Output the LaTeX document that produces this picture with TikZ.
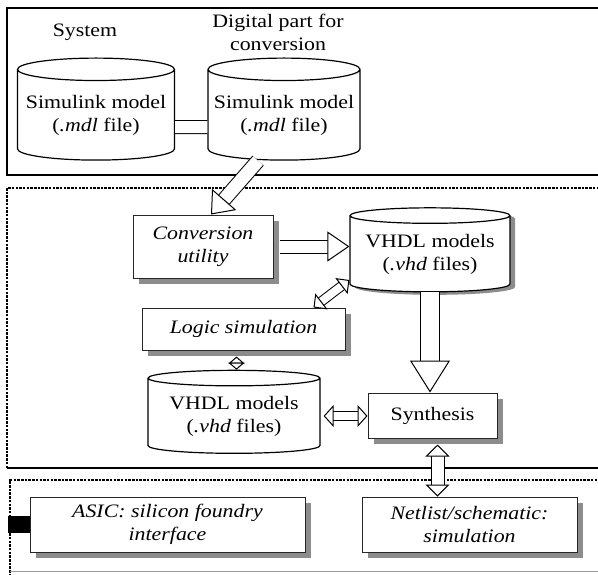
\documentclass[tikz,border=0pt]{standalone}
\usepackage{fontspec}
\setmainfont{Liberation Serif}[FakeStretch=1.15]
\usetikzlibrary{arrows.meta,positioning,calc,shapes.geometric,shadows}
\newcommand{\fich}[1]{(\textit{.#1}}

\begin{document}
\begin{tikzpicture}[x=1pt,y=-1pt,
  every node/.style={font=\fontsize{19}{23}\selectfont},
  boite/.style={draw=black!85,line width=1pt,fill=white,align=center,inner sep=0pt,
    drop shadow={shadow xshift=6pt,shadow yshift=-6pt,fill=black!45,opacity=1}},
  bdd/.style={draw,line width=1.2pt,fill=white,cylinder,shape border rotate=90,
    aspect=0.16,inner sep=0pt,align=center},
  creux/.style n args={3}{double,double distance=#1,line width=1pt,
    -{Triangle[length=#2,width=#3,fill=white,line width=1pt]}},
  creuxx/.style n args={3}{double,double distance=#1,line width=1pt,
    {Triangle[length=#2,width=#3,fill=white,line width=1pt]}-{Triangle[length=#2,width=#3,fill=white,line width=1pt]}},
  pointille/.style={line width=2.5pt,dash pattern=on 2.5pt off 1.2pt}]
  \clip (0,0) rectangle (598,574);
  % cadres
  \draw[line width=1.4pt] (7,8) rectangle (640,175);
  \draw[pointille] (7,468) -- (7,188) -- (640,188);
  \draw[line width=1.2pt] (7,468) -- (640,468);
  \draw[pointille] (10,580) -- (10,480) -- (640,480);
  \draw[black!40,line width=1pt] (10,571) -- (640,571);
  % niveau systeme
  \node at (85,32) {System};
  \node[align=center] at (278,32) {Digital part for\\conversion};
  \node[bdd,minimum width=157pt,minimum height=102pt] (sys) at (96,115)
    {Simulink model\\\fich{mdl} file)};
  \node[bdd,minimum width=152pt,minimum height=102pt] (dig) at (284,115)
    {Simulink model\\\fich{mdl} file)};
  \draw[double,double distance=12pt,line width=1pt]
    ([yshift=-12pt]sys.east) -- ([yshift=-12pt]dig.west);
  % conversion et simulation
  \node[boite,minimum width=140pt,minimum height=63pt] (conv) at (203,246.5)
    {\textit{Conversion}\\\textit{utility}};
  \node[bdd,aspect=0.12,minimum width=160pt,minimum height=84pt,
    drop shadow={shadow xshift=5pt,shadow yshift=-3pt,fill=black!45,opacity=1}]
    (vhdla) at (430,254) {VHDL models\\\fich{vhd} files)};
  \node[boite,minimum width=203pt,minimum height=42pt] (logic) at (243.5,329)
    {\textit{Logic simulation}};
  \node[bdd,aspect=0.12,minimum width=172pt,minimum height=83pt] (vhdlb) at (234,416)
    {VHDL models\\\fich{vhd} files)};
  \node[boite,minimum width=129pt,minimum height=45pt] (synth) at (432.5,415.5)
    {Synthesis};
  % implantation
  \node[boite,minimum width=275pt,minimum height=55pt] (asic) at (167.5,524.5)
    {\textit{ASIC: silicon foundry}\\\textit{interface}};
  \node[boite,minimum width=215pt,minimum height=55pt] (netl) at (469.5,524.5)
    {\textit{Netlist/schematic:}\\\textit{simulation}};
  \draw[line width=17pt] (asic.west) -- ++(-22,0);
  % fleches creuses
  \draw[creux={13pt}{20pt}{32pt}] ([xshift=-26pt]dig.south) -- ([xshift=8pt]conv.north);
  \draw[creux={12pt}{22pt}{30pt}] ([xshift=6pt]conv.east) -- (conv.east -| vhdla.west);
  \draw[creuxx={8pt}{10pt}{20pt}] ([xshift=70pt]logic.north) -- ([yshift=-26pt]vhdla.west);
  \draw[creuxx={7pt}{7pt}{16pt}] ([xshift=-7pt,yshift=-6pt]logic.south)
    -- ([xshift=-7pt]logic.south |- vhdlb.north);
  \draw[creux={18pt}{32pt}{40pt}] (vhdla.south) -- (vhdla.south |- synth.north);
  \draw[creuxx={8pt}{10pt}{22pt}] ([xshift=3pt]vhdlb.east) -- (vhdlb.east -| synth.west);
  \draw[creuxx={12pt}{12pt}{24pt}] ([xshift=5pt,yshift=-6pt]synth.south)
    -- ([xshift=5pt]synth.south |- netl.north);
\end{tikzpicture}
\end{document}
